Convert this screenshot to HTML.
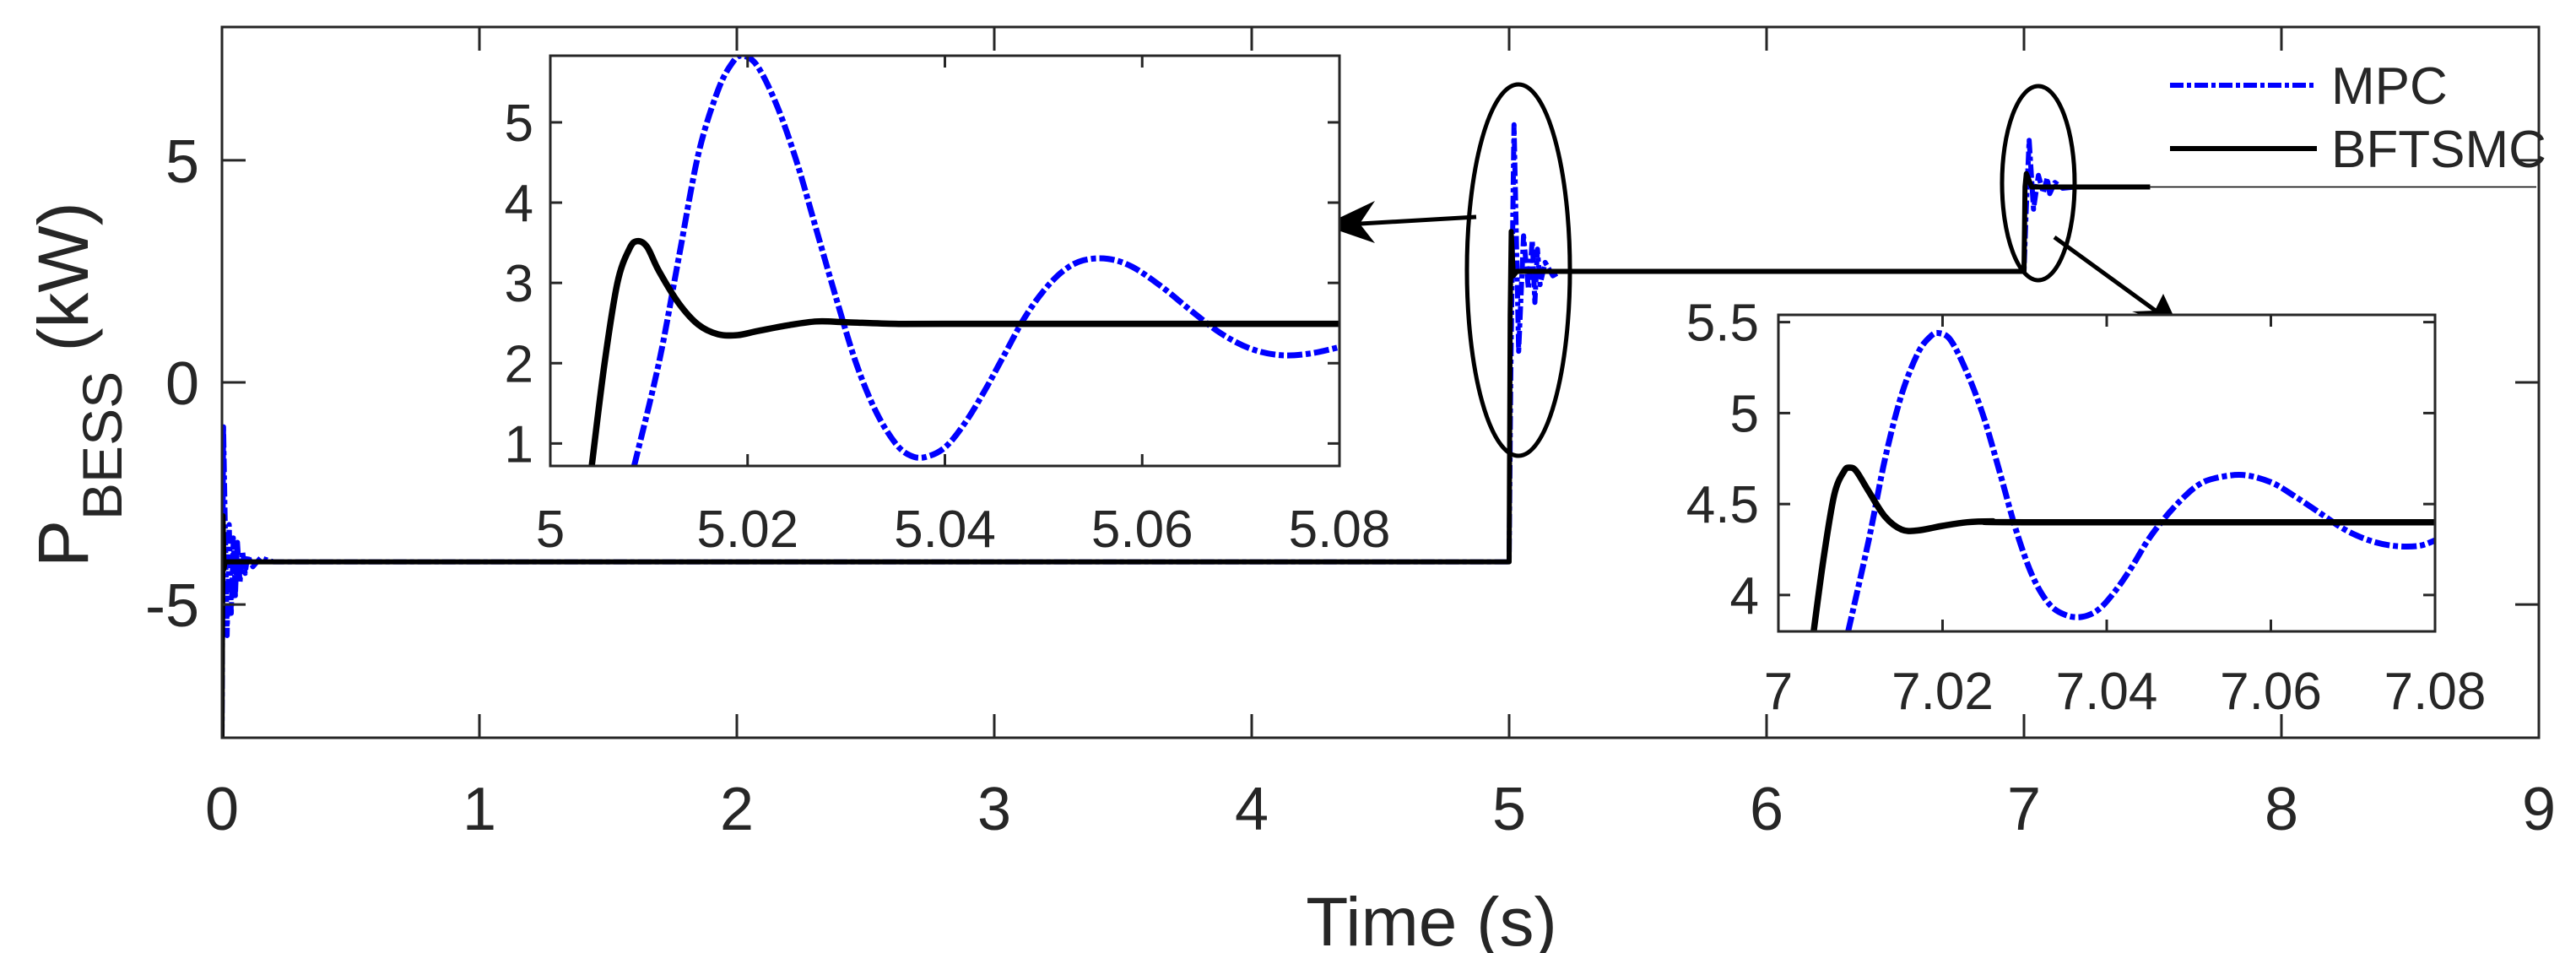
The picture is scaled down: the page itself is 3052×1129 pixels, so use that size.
<!DOCTYPE html>
<html><head><meta charset="utf-8">
<style>
html,body{margin:0;padding:0;background:#fff;}
svg{display:block;}
text{font-family:"Liberation Sans",Arial,sans-serif;fill:#262626;}
</style></head>
<body>
<svg id="chart" width="3052" height="1129" viewBox="0 0 3052 1129" xmlns="http://www.w3.org/2000/svg">
<rect width="3052" height="1129" fill="#fff"/>
<g id="main"></g>
<g id="ann"></g>
<g id="in1"></g>
<g id="in2"></g>
<g id="leg"></g>
</svg>
<script>
// ---- data ----
const mainXTicks = [0,1,2,3,4,5,6,7,8,9];
const mainYTicks = [-5,0,5];
const mainT_bft = [0,0.004,0.008,0.012,5.0,5.004,5.008,5.016,5.03,7.0,7.004,7.009,7.03,7.49];
const mainV_bft = [-8,-3,-4.2,-4.04,-4.04,1.5,3.4,2.4,2.5,2.5,4.4,4.7,4.4,4.4];
const mainT_mpc = [0,0.006,0.012,0.02,0.028,0.036,0.044,0.052,0.06,0.07,0.08,0.09,0.1,0.12,0.15,0.2,5.0,5.006,5.019,5.037,5.056,5.075,5.09,5.1,5.11,5.12,5.14,5.17,5.2,7.0,7.008,7.02,7.037,7.056,7.075,7.09,7.1,7.12,7.15,7.2];
const mainV_mpc = [-8,-1,-3,-5.7,-3.2,-5.2,-3.5,-4.8,-3.6,-4.5,-3.8,-4.3,-3.9,-4.15,-3.95,-4.04,-4.04,0,5.8,0.7,3.3,2.1,3.2,1.8,3.0,2.2,2.7,2.4,2.5,2.5,3.8,5.45,3.9,4.66,4.27,4.6,4.25,4.5,4.37,4.4];

const in1XTicks = [5,5.02,5.04,5.06,5.08];
const in1XLabels = ["5","5.02","5.04","5.06","5.08"];
const in1YTicks = [1,2,3,4,5];
const in1T_bft = [5.0042,5.0055,5.0068,5.008,5.0088,5.0098,5.011,5.013,5.015,5.017,5.019,5.021,5.024,5.027,5.03,5.035,5.04,5.08];
const in1V_bft = [0.72,2.0,3.0,3.42,3.52,3.45,3.15,2.75,2.48,2.36,2.35,2.4,2.47,2.52,2.51,2.49,2.49,2.49];
const in1T_mpc = [5.0085,5.011,5.013,5.015,5.017,5.0185,5.0195,5.021,5.023,5.025,5.027,5.029,5.031,5.033,5.035,5.0365,5.038,5.04,5.042,5.044,5.046,5.048,5.05,5.052,5.054,5.0565,5.059,5.062,5.065,5.068,5.071,5.074,5.077,5.08];
const in1V_mpc = [0.72,2.0,3.3,4.6,5.4,5.75,5.83,5.7,5.2,4.5,3.65,2.8,2.0,1.4,1.0,0.85,0.83,0.95,1.25,1.65,2.1,2.55,2.9,3.15,3.28,3.3,3.2,2.95,2.65,2.37,2.18,2.1,2.12,2.2];

const in2XTicks = [7,7.02,7.04,7.06,7.08];
const in2XLabels = ["7","7.02","7.04","7.06","7.08"];
const in2YTicks = [4,4.5,5,5.5];
const in2YLabels = ["4","4.5","5","5.5"];
const in2T_bft = [7.0043,7.0055,7.0068,7.008,7.0087,7.0095,7.011,7.013,7.015,7.017,7.02,7.023,7.026,7.03,7.08];
const in2V_bft = [3.8,4.2,4.55,4.68,4.7,4.68,4.57,4.43,4.36,4.355,4.38,4.4,4.405,4.4,4.4];
const in2T_mpc = [7.0085,7.011,7.013,7.015,7.017,7.0185,7.0195,7.021,7.023,7.025,7.027,7.029,7.031,7.033,7.035,7.037,7.039,7.041,7.043,7.045,7.047,7.049,7.051,7.053,7.0565,7.06,7.063,7.066,7.069,7.072,7.075,7.078,7.08];
const in2V_mpc = [3.8,4.3,4.75,5.1,5.33,5.42,5.44,5.4,5.22,4.98,4.67,4.35,4.1,3.95,3.89,3.88,3.92,4.02,4.15,4.3,4.42,4.52,4.6,4.64,4.66,4.62,4.54,4.45,4.36,4.3,4.27,4.27,4.3];

const legendLabels = ["MPC","BFTSMC"];

// ---- helpers ----
const NS="http://www.w3.org/2000/svg";
function mk(tag,attrs,parent){const e=document.createElementNS(NS,tag);for(const k in attrs)e.setAttribute(k,attrs[k]);parent.appendChild(e);return e;}
function scale(d0,d1,r0,r1){return v=>r0+(v-d0)/(d1-d0)*(r1-r0);}
const AX="#262626";
const DASH="16 4 5 4";

function drawSeries(g,T,V,sx,sy,color,w,dash,name,smooth){
  const P=T.map((t,i)=>[sx(t),sy(V[i])]);
  let d="M"+P[0][0].toFixed(2)+" "+P[0][1].toFixed(2);
  for(let i=1;i<P.length;i++){
    if(smooth){
      const p0=P[Math.max(0,i-2)],p1=P[i-1],p2=P[i],p3=P[Math.min(P.length-1,i+1)];
      const c1=[p1[0]+(p2[0]-p0[0])/6,p1[1]+(p2[1]-p0[1])/6];
      const c2=[p2[0]-(p3[0]-p1[0])/6,p2[1]-(p3[1]-p1[1])/6];
      d+="C"+c1[0].toFixed(2)+" "+c1[1].toFixed(2)+" "+c2[0].toFixed(2)+" "+c2[1].toFixed(2)+" "+p2[0].toFixed(2)+" "+p2[1].toFixed(2);
    } else d+="L"+P[i][0].toFixed(2)+" "+P[i][1].toFixed(2);
  }
  const p=mk("path",{d:d,fill:"none",stroke:color,"stroke-width":w,"stroke-linejoin":"round"},g);
  if(dash)p.setAttribute("stroke-dasharray",dash);
  
  
  return p;
}

// ---- main axes ----
const M={l:263,r:3008,t:32,b:874};
const mx=scale(0,9,M.l,M.r), my=scale(-8,8,M.b,M.t);
const gm=document.getElementById("main");
const cp=mk("clipPath",{id:"cm"},gm); mk("rect",{x:M.l,y:M.t,width:M.r-M.l,height:M.b-M.t},cp);
const sg=mk("g",{"clip-path":"url(#cm)"},gm);
drawSeries(sg,mainT_mpc,mainV_mpc,mx,my,"#0000ff",6,DASH,"mpc-line",false);
drawSeries(sg,mainT_bft,mainV_bft,mx,my,"#000",6,null,"bftsmc-line",false);
const thin=mk("line",{x1:mx(7.49),x2:3005,y1:my(4.4),y2:my(4.4),stroke:"#000","stroke-width":1.5},sg);


const br=mk("rect",{x:M.l,y:M.t,width:M.r-M.l,height:M.b-M.t,fill:"none",stroke:AX,"stroke-width":3},gm);


mainXTicks.forEach(v=>{
  const x=mx(v);
  mk("line",{x1:x,x2:x,y1:M.b,y2:M.b-28,stroke:AX,"stroke-width":3},gm);
  mk("line",{x1:x,x2:x,y1:M.t,y2:M.t+28,stroke:AX,"stroke-width":3},gm);
  const t=mk("text",{x:x,y:983,"font-size":72,"text-anchor":"middle"},gm);t.textContent=v;
  
  
});
mainYTicks.forEach(v=>{
  const y=my(v);
  mk("line",{x1:M.l,x2:M.l+28,y1:y,y2:y,stroke:AX,"stroke-width":3},gm);
  mk("line",{x1:M.r,x2:M.r-28,y1:y,y2:y,stroke:AX,"stroke-width":3},gm);
  const t=mk("text",{x:236,y:y+26,"font-size":72,"text-anchor":"end"},gm);t.textContent=v;
  
  
});
const xt=mk("text",{x:1696,y:1120,"font-size":82,"text-anchor":"middle"},gm);xt.textContent="Time (s)";


const yt=mk("text",{transform:"translate(104,672) rotate(-90)","font-size":84},gm);


yt.innerHTML='P<tspan font-size="66" dy="40">BESS</tspan><tspan dy="-40"> (kW)</tspan>';

// ---- annotations ----
const ga=document.getElementById("ann");
const e1=mk("ellipse",{cx:1799,cy:320,rx:61,ry:220,fill:"none",stroke:"#000","stroke-width":5},ga);


const e2=mk("ellipse",{cx:2415,cy:217,rx:43,ry:115,fill:"none",stroke:"#000","stroke-width":5},ga);


const a1=mk("line",{x1:1749,y1:257,x2:1595,y2:266,stroke:"#000","stroke-width":5},ga);


mk("polygon",{points:"1568,267 1629,238 1611,265 1629,288",fill:"#000"},ga);
const a2=mk("line",{x1:2434,y1:281,x2:2562,y2:374,stroke:"#000","stroke-width":5},ga);


mk("polygon",{points:"2582,389 2563,348 2553,368 2526,369",fill:"#000"},ga);

// ---- insets ----
function inset(id,box,xd,yd,xt,xl,ytk,yl,Tb,Vb,Tm,Vm,fs,ylx,xly){
  const g=document.getElementById(id);
  mk("rect",{x:box.l,y:box.t,width:box.r-box.l,height:box.b-box.t,fill:"#fff"},g);
  const sx=scale(xd[0],xd[1],box.l,box.r), sy=scale(yd[0],yd[1],box.b,box.t);
  const c=mk("clipPath",{id:id+"c"},g); mk("rect",{x:box.l,y:box.t,width:box.r-box.l,height:box.b-box.t},c);
  const s=mk("g",{"clip-path":"url(#"+id+"c)"},g);
  drawSeries(s,Tm,Vm,sx,sy,"#0000ff",7,"18 4 6 4",id+"-mpc-line",true);
  drawSeries(s,Tb,Vb,sx,sy,"#000",7.5,null,id+"-bftsmc-line",true);
  mk("rect",{x:box.l,y:box.t,width:box.r-box.l,height:box.b-box.t,fill:"none",stroke:AX,"stroke-width":3},g);
  xt.forEach((v,i)=>{const x=sx(v);
    mk("line",{x1:x,x2:x,y1:box.b,y2:box.b-14,stroke:AX,"stroke-width":3},g);
    mk("line",{x1:x,x2:x,y1:box.t,y2:box.t+14,stroke:AX,"stroke-width":3},g);
    const t=mk("text",{x:x,y:xly,"font-size":fs,"text-anchor":"middle"},g);t.textContent=xl[i];
    
    });
  ytk.forEach((v,i)=>{const y=sy(v);
    mk("line",{x1:box.l,x2:box.l+14,y1:y,y2:y,stroke:AX,"stroke-width":3},g);
    mk("line",{x1:box.r,x2:box.r-14,y1:y,y2:y,stroke:AX,"stroke-width":3},g);
    const t=mk("text",{x:ylx,y:y+22,"font-size":fs,"text-anchor":"end"},g);t.textContent=yl[i];
    
    });
}
inset("in1",{l:652,r:1587,t:66,b:552},[5,5.08],[0.72,5.83],in1XTicks,in1XLabels,in1YTicks,in1YTicks.map(String),in1T_bft,in1V_bft,in1T_mpc,in1V_mpc,62,632,648);
inset("in2",{l:2107,r:2885,t:373,b:748},[7,7.08],[3.8,5.54],in2XTicks,in2XLabels,in2YTicks,in2YLabels,in2T_bft,in2V_bft,in2T_mpc,in2V_mpc,62,2084,840);

// ---- legend ----
const gl=document.getElementById("leg");
const l1=mk("line",{x1:2571,x2:2745,y1:101,y2:101,stroke:"#0000ff","stroke-width":6,"stroke-dasharray":DASH},gl);


const l2=mk("line",{x1:2571,x2:2745,y1:176,y2:176,stroke:"#000","stroke-width":6},gl);


[101,176].forEach((y,i)=>{const t=mk("text",{x:2762,y:y+22,"font-size":62},gl);t.textContent=legendLabels[i];
  
  });
</script>
</body></html>
